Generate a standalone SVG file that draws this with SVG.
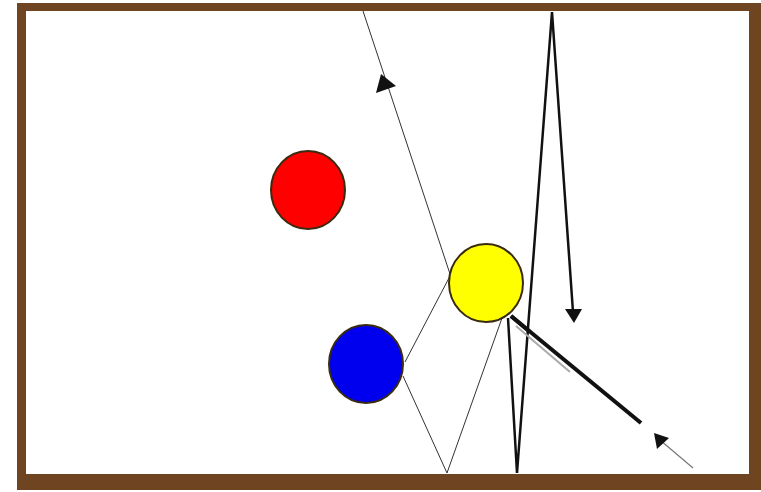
<svg xmlns="http://www.w3.org/2000/svg" width="761" height="492" viewBox="0 0 761 492">
  <style>
    .thin { stroke: #333; stroke-width: 1; fill: none; }
    .thick { stroke: #111; stroke-width: 2.5; fill: none; }
    .ball { stroke: #3a2a10; stroke-width: 2; }
    .head { fill: #111; }
  </style>
  <rect x="0" y="0" width="761" height="492" fill="#ffffff"/>
  <g id="table">
    <rect x="17" y="3" width="744" height="487" fill="#6e4421"/>
    <rect x="26" y="11" width="723" height="463" fill="#ffffff"/>
  </g>
  <g id="connectors">
    <line class="thin" x1="363" y1="11" x2="450" y2="274"/>
    <line class="thin" x1="450" y1="276" x2="405" y2="362"/>
    <line class="thin" x1="403" y1="376" x2="447" y2="473"/>
    <line class="thin" x1="447" y1="473" x2="502" y2="318"/>
    <polygon class="head" points="381,74 376,93 396,86"/>
    <polyline class="thick" points="508,318 517,473 552,12 573,312"/>
    <polygon class="head" points="565,309 582,309 574,323"/>
    <line x1="516" y1="326" x2="570" y2="372" stroke="#aaaaaa" stroke-width="2"/>
    <line x1="511" y1="316" x2="641" y2="423" stroke="#111" stroke-width="4"/>
    <line x1="693" y1="468" x2="660" y2="440" stroke="#777" stroke-width="1.2"/>
    <polygon class="head" points="654,433 657,449 669,438"/>
  </g>
  <g id="red-ball">
    <ellipse class="ball" cx="308" cy="190" rx="37" ry="39" fill="#ff0000"/>
  </g>
  <g id="yellow-ball">
    <ellipse class="ball" cx="486" cy="283" rx="37" ry="39" fill="#ffff00"/>
  </g>
  <g id="blue-ball">
    <ellipse class="ball" cx="366" cy="364" rx="37" ry="39" fill="#0000ee"/>
  </g>
  <g id="overlay">
    <line x1="511" y1="316" x2="530" y2="332" stroke="#111" stroke-width="4"/>
  </g>
</svg>
